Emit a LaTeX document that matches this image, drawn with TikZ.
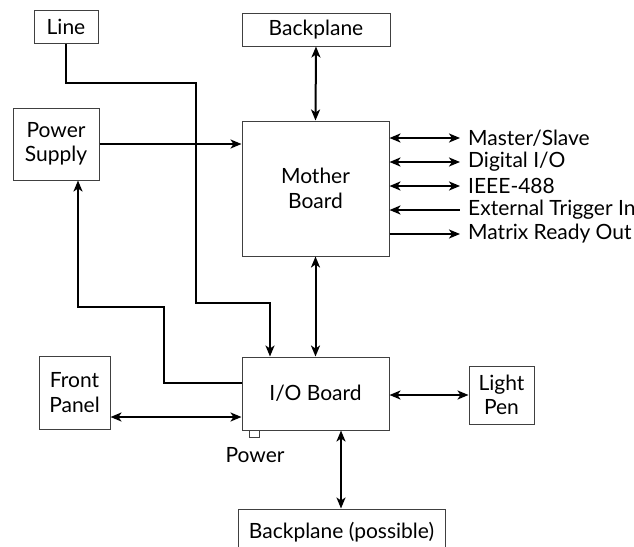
\documentclass[tikz,border=0pt]{standalone}
\usepackage{fontspec}
\setmainfont{Lato}
\usetikzlibrary{arrows.meta}
\begin{document}
\begin{tikzpicture}[x=1pt,y=-1pt,
  box/.style={draw=black!75,line width=1pt,inner sep=0pt,align=center,font=\fontsize{21}{24.5}\selectfont},
  conn/.style={line width=2pt,black},
  tip/.style={-{Stealth[length=11pt,width=9pt,inset=3pt]}},
  dtip/.style={{Stealth[length=11pt,width=9pt,inset=3pt]}-{Stealth[length=11pt,width=9pt,inset=3pt]}},
  lab/.style={anchor=west,inner sep=0pt,font=\fontsize{21}{24.5}\selectfont}]
\useasboundingbox (0,0) rectangle (634,546);
\node[box,minimum width=64pt,minimum height=33pt] (line) at (66,26.5) {Line};
\node[box,minimum width=148pt,minimum height=33pt] (bp1) at (316,29.5) {Backplane};
\node[box,minimum width=86pt,minimum height=72pt] (ps) at (56,144) {Power\\Supply};
\node[box,minimum width=147pt,minimum height=135pt] (mb) at (315.5,188.5) {Mother\\Board};
\node[box,minimum width=147pt,minimum height=73pt] (io) at (315.5,393.5) {I/O Board};
\node[box,minimum width=71pt,minimum height=73pt] (fp) at (74.5,392.5) {Front\\Panel};
\node[box,minimum width=65pt,minimum height=58pt] (lp) at (501.5,395) {Light\\Pen};
\node[box,minimum width=207pt,minimum height=46pt] (bp2) at (341.5,532) {Backplane (possible)};
\node[draw=black!75,line width=0.8pt,minimum width=10pt,minimum height=7pt,inner sep=0pt] (pwr) at (254,433.5) {};
\node[inner sep=0pt,font=\fontsize{21}{24.5}\selectfont] (pwrlab) at (255,455) {Power};
% Line to I/O board
\coordinate (l1) at (66,83);
\coordinate (l2) at (196,83);
\coordinate (l3) at (196,303);
\coordinate (l4) at (270,303);
\draw[conn,tip] (line.south) -- (l1) -- (l2) -- (l3) -- (l4) -- (l4 |- io.north);
% power supply to mother board
\draw[conn,tip] (ps.east) -- (ps.east -| mb.west);
% backplane <-> mother board
\draw[conn,dtip] (bp1.south) -- (mb.north);
% mother board <-> io
\draw[conn,dtip] (mb.south) -- (io.north);
% io -> power supply
\coordinate (p0) at (242,383);
\coordinate (p1) at (164,383);
\coordinate (p2) at (164,307);
\coordinate (p3) at (78,307);
\draw[conn,tip] (p0 -| io.west) -- (p1) -- (p2) -- (p3) -- (p3 |- ps.south);
% front panel <-> io
\coordinate (f0) at (110,417);
\draw[conn,dtip] (f0 -| fp.east) -- (f0 -| io.west);
% io <-> light pen
\draw[conn,dtip] (io.east |- lp.west) -- (lp.west);
% io <-> backplane possible
\coordinate (b0) at (341,430);
\draw[conn,dtip] (b0 |- io.south) -- (b0 |- bp2.north);
% right side signals
\foreach \y/\t/\n in {138/Master\slash Slave/ms,162/Digital I\slash O/dio,186/IEEE-488/ieee,210/External Trigger In/ext,234/Matrix Ready Out/mro}{
  \node[lab] (\n) at (468,\y) {\t};
}
\draw[conn,dtip] (mb.east |- ms.west) -- ([xshift=-8pt]ms.west);
\draw[conn,dtip] (mb.east |- dio.west) -- ([xshift=-8pt]dio.west);
\draw[conn,dtip] (mb.east |- ieee.west) -- ([xshift=-8pt]ieee.west);
\draw[conn,{Stealth[length=11pt,width=9pt,inset=3pt]}-] (mb.east |- ext.west) -- ([xshift=-8pt]ext.west);
\draw[conn,tip] (mb.east |- mro.west) -- ([xshift=-8pt]mro.west);
\end{tikzpicture}
\end{document}
